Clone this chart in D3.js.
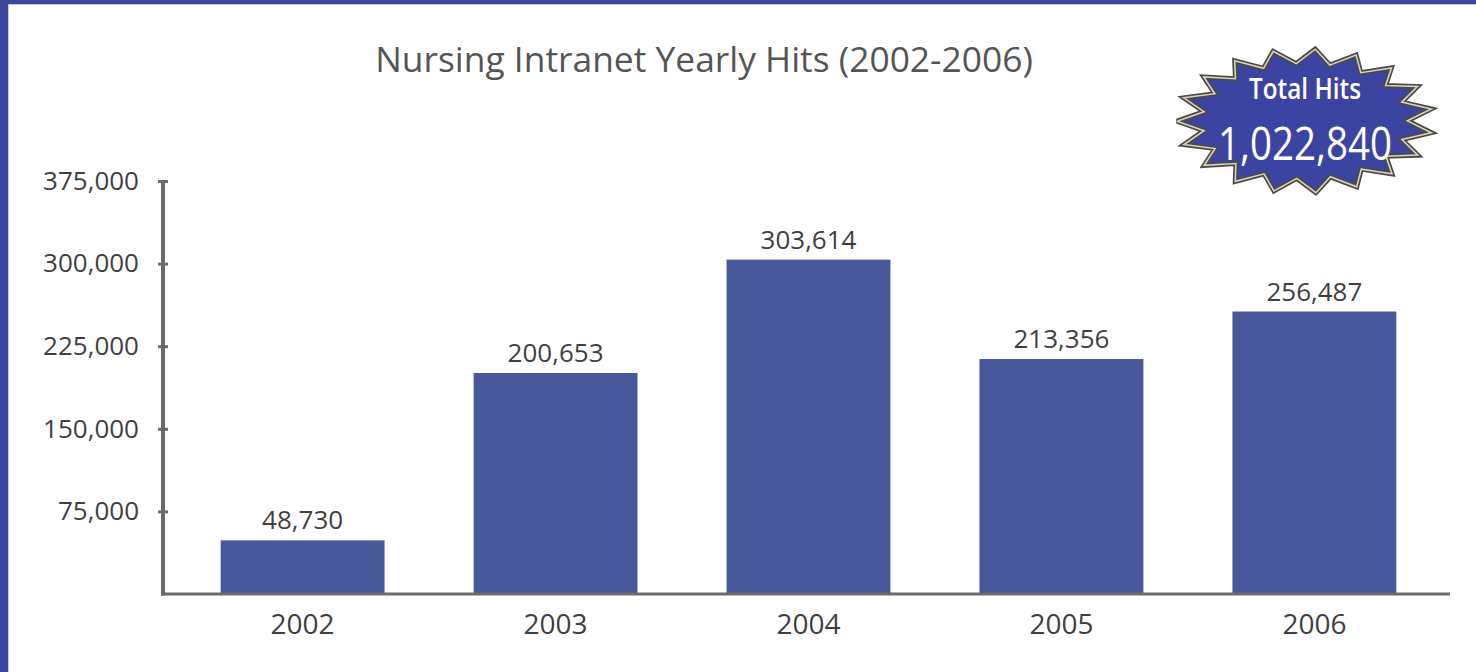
<!DOCTYPE html>
<html><head><meta charset="utf-8">
<script src="https://cdn.jsdelivr.net/npm/d3@7"></script>
<style>
html,body{margin:0;padding:0;background:#fff;}
svg{display:block;}
text{font-family:"Open Sans","Noto Sans",sans-serif;}
</style></head>
<body>
<svg id="c" width="1476" height="672"></svg>
<script>
const title = "Nursing Intranet Yearly Hits (2002-2006)";
const years = ["2002","2003","2004","2005","2006"];
const hits = [48730, 200653, 303614, 213356, 256487];
const yTicks = [75000, 150000, 225000, 300000, 375000];
const badgeLabel = "Total Hits";

const svg = d3.select("#c");
const W = 1476, H = 672;
const fmt = d3.format(",");

svg.append("rect").attr("width", W).attr("height", H).attr("fill", "#fff");
// page border (left and top)
svg.append("rect").attr("x",0).attr("y",0).attr("width",W).attr("height",4).attr("fill","#3a48a0");
svg.append("rect").attr("x",0).attr("y",0).attr("width",8).attr("height",H).attr("fill","#3a48a0");
svg.append("line").attr("x1",8).attr("x2",W).attr("y1",4.5).attr("y2",4.5).attr("stroke","#c8c8c8").attr("stroke-width",1);
svg.append("line").attr("x1",8.5).attr("x2",8.5).attr("y1",4).attr("y2",H).attr("stroke","#c8c8c8").attr("stroke-width",1);

const x = d3.scaleBand().domain(years).range([165, 1452]).paddingInner(0.352).paddingOuter(0.22);
const y = d3.scaleLinear().domain([0, 375000]).range([594, 181]);

// Title
const t = svg.append("text").attr("x", 704).attr("y", 72).attr("text-anchor","middle")
  .attr("fill","#555").attr("font-size", 34).text(title);
const tl = t.node().getComputedTextLength();
t.attr("font-size", 34 * 658 / tl);

// Bars
svg.append("g").selectAll("rect").data(hits).join("rect")
  .attr("x", (d,i) => x(years[i])).attr("width", x.bandwidth())
  .attr("y", d => y(d)).attr("height", d => y(0) - y(d))
  .attr("fill", "#48589a");

// Value labels
svg.append("g").selectAll("text").data(hits).join("text")
  .attr("x", (d,i) => x(years[i]) + x.bandwidth()/2)
  .attr("y", d => y(d) - 11)
  .attr("text-anchor","middle").attr("font-size", 26).attr("fill","#3f3f3f")
  .text(d => fmt(d));

// Y axis
const yAxis = d3.axisLeft(y).tickValues(yTicks).tickFormat(fmt).tickSize(0).tickPadding(24);
const gy = svg.append("g").attr("transform","translate(163,0)").call(yAxis);
gy.select(".domain").remove();
gy.selectAll("text").attr("font-size", 26).attr("fill","#3f3f3f").attr("font-family",'"Open Sans","Noto Sans",sans-serif');
gy.selectAll(".tick").append("line").attr("x1",-5).attr("x2",5).attr("stroke","#6b6b6b").attr("stroke-width",3);
svg.append("line").attr("x1",163).attr("x2",163).attr("y1",y(375000)).attr("y2",y(0)+1.5)
  .attr("stroke","#6b6b6b").attr("stroke-width",4);

// X axis
const xAxis = d3.axisBottom(x).tickSize(0).tickPadding(40);
const gx = svg.append("g").attr("transform",`translate(0,${y(0)})`).call(xAxis);
gx.select(".domain").remove();
gx.selectAll("text").attr("font-size", 28).attr("fill","#3f3f3f").attr("dy", 0)
  .attr("font-family",'"Open Sans","Noto Sans",sans-serif');
svg.append("line").attr("x1",161).attr("x2",1450).attr("y1",y(0)).attr("y2",y(0))
  .attr("stroke","#6b6b6b").attr("stroke-width",3);

// Starburst badge
const cx = 1305, cy = 121, N = 19;
const pts = d3.range(2*N).map(k => {
  const a = k * Math.PI / N - Math.PI/2 + 0.08;
  const r = k % 2 === 0 ? 1 : 0.8;
  return [cx + 128 * r * Math.cos(a), cy + 72 * r * Math.sin(a)];
});
const star = d3.line().curve(d3.curveLinearClosed);
svg.append("path").attr("d", star(pts)).attr("fill","#3b44a0").attr("stroke","#4a4a4a").attr("stroke-width",5).attr("stroke-linejoin","miter").attr("stroke-miterlimit",3);
svg.append("path").attr("d", star(pts)).attr("fill","none").attr("stroke","#d9d2bc").attr("stroke-width",1.6).attr("stroke-linejoin","miter").attr("stroke-miterlimit",3);
svg.append("text").attr("x", cx).attr("y", 99).attr("text-anchor","middle")
  .attr("fill","#fff").attr("font-size", 29).attr("font-weight", 600)
  .attr("textLength", 112).attr("lengthAdjust","spacingAndGlyphs").text(badgeLabel);
svg.append("text").attr("x", cx).attr("y", 160).attr("text-anchor","middle")
  .attr("fill","#fff").attr("font-size", 46).attr("font-weight", 500)
  .attr("textLength", 174).attr("lengthAdjust","spacingAndGlyphs").text(fmt(d3.sum(hits)));
</script>
</body></html>
